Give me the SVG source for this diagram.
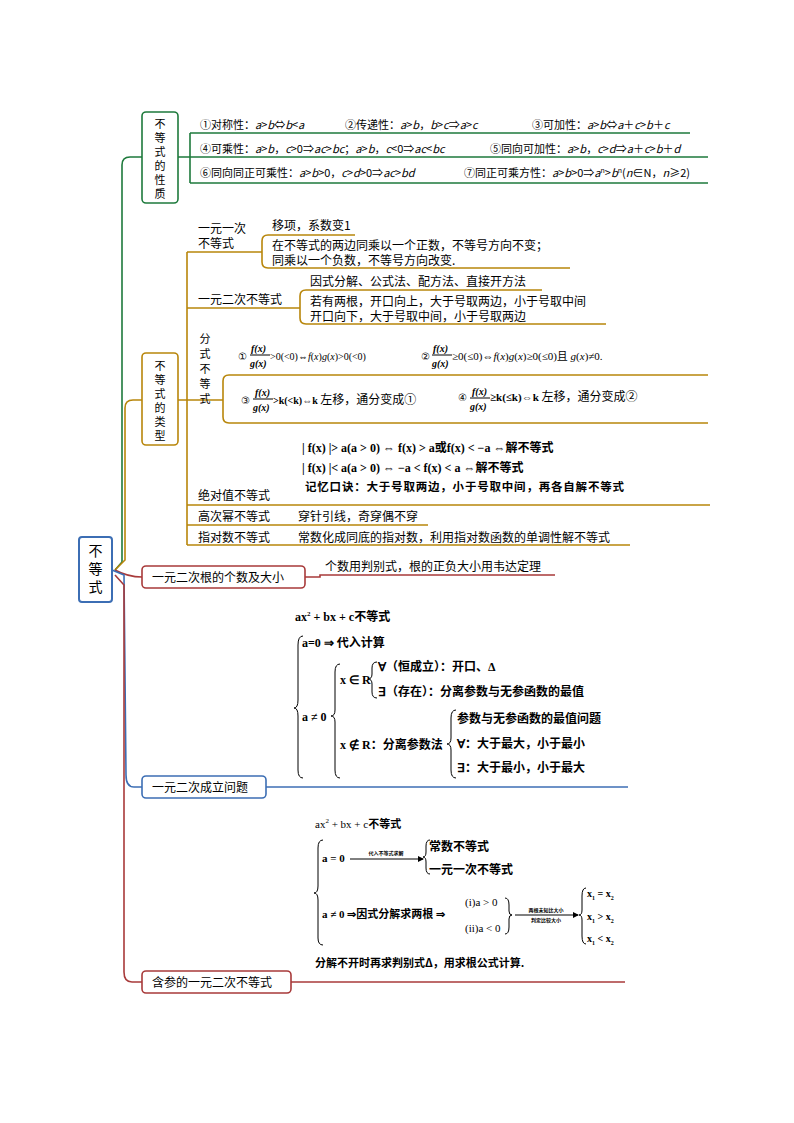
<svg xmlns="http://www.w3.org/2000/svg" width="794" height="1123" viewBox="0 0 794 1123" font-family="'Noto Sans CJK SC', 'Liberation Serif', serif">
<style>
.t{font-size:12px}
.v{font-size:11px}
.s{font-size:11px}
.g{stroke:#1e7a3c;fill:none;stroke-width:1.6}
.b{stroke:#b8860b;fill:none;stroke-width:1.6}
.r{stroke:#a83a3a;fill:none;stroke-width:1.6}
.u{stroke:#3c6eb4;fill:none;stroke-width:1.6}
.k{stroke:#000;fill:none;stroke-width:1}
</style>
<defs><marker id="ar" markerWidth="6" markerHeight="6" refX="5" refY="3" orient="auto"><path d="M0,0L6,3L0,6z" fill="#000"/></marker></defs>
<g id="connectors">
<path class="g" d="M115,570 L122,562 L122,165 Q122,157 130,157 L142,157" stroke-width="2.5"/>
<path class="b" d="M115,570 L125,560 L125,408 Q125,400 133,400 L142,400" stroke-width="4"/>
<path class="r" d="M115,570 Q128,577 142,577" stroke-width="3"/>
<path class="u" d="M112,570 L124,575 L126,775 Q126,787 134,787 L142,787" stroke-width="4"/>
<path class="r" d="M115,575 L124,585 L124,972 Q124,982 132,982 L142,982" stroke-width="2"/>
<path class="g" d="M178,157 L190,157 M190,133 L190,183 M190,133 L690,133 M190,157 L708,157 M190,183 L708,183"/>
<path class="b" d="M178,400 L187,400 M187,252 L187,545 M187,252 L262,252 M262,241 Q262,235 268,235 L355,235 M262,241 L262,262 Q262,268 268,268 L570,268 M187,308 L300,308 M300,296 Q300,290 306,290 L542,290 M300,296 L300,318 Q300,324 306,324 L606,324 M187,400 L223,400 M223,381 Q223,375 229,375 L708,375 M223,381 L223,417 Q223,423 229,423 L708,423 M187,505 L710,505 M187,525 L428,525 M187,545 L630,545"/>
<path class="r" d="M305,577 L320,577 L320,575 L555,575"/>
<path class="u" d="M266,787 L628,787"/>
<path class="r" d="M291,982 L625,982"/>
</g>
<g id="root"><rect x="79" y="537" width="33" height="65" rx="3" fill="#fff" stroke="#3c6eb4" stroke-width="2"/>
<text x="95.5" y="556" text-anchor="middle" font-size="14">不</text><text x="95.5" y="574" text-anchor="middle" font-size="14">等</text><text x="95.5" y="592" text-anchor="middle" font-size="14">式</text></g>
<g id="n-xingzhi"><rect x="142" y="112" width="36" height="91" rx="4" fill="#fff" stroke="#1e7a3c" stroke-width="1.6"/>
<text class="v" x="160" y="128" text-anchor="middle">不</text><text class="v" x="160" y="142" text-anchor="middle">等</text><text class="v" x="160" y="156" text-anchor="middle">式</text><text class="v" x="160" y="170" text-anchor="middle">的</text><text class="v" x="160" y="184" text-anchor="middle">性</text><text class="v" x="160" y="198" text-anchor="middle">质</text></g>
<g id="n-xingzhi-items">
<text class="s" x="200" y="129">①对称性：<tspan font-style="italic">a</tspan>&gt;<tspan font-style="italic">b</tspan>⇔<tspan font-style="italic">b</tspan>&lt;<tspan font-style="italic">a</tspan></text>
<text class="s" x="345" y="129">②传递性：<tspan font-style="italic">a</tspan>&gt;<tspan font-style="italic">b</tspan>，<tspan font-style="italic">b</tspan>&gt;<tspan font-style="italic">c</tspan>⇒<tspan font-style="italic">a</tspan>&gt;<tspan font-style="italic">c</tspan></text>
<text class="s" x="532" y="129">③可加性：<tspan font-style="italic">a</tspan>&gt;<tspan font-style="italic">b</tspan>⇔<tspan font-style="italic">a</tspan>＋<tspan font-style="italic">c</tspan>&gt;<tspan font-style="italic">b</tspan>＋<tspan font-style="italic">c</tspan></text>
<text class="s" x="200" y="153">④可乘性：<tspan font-style="italic">a</tspan>&gt;<tspan font-style="italic">b</tspan>，<tspan font-style="italic">c</tspan>&gt;0⇒<tspan font-style="italic">ac</tspan>&gt;<tspan font-style="italic">bc</tspan>；<tspan font-style="italic">a</tspan>&gt;<tspan font-style="italic">b</tspan>，<tspan font-style="italic">c</tspan>&lt;0⇒<tspan font-style="italic">ac</tspan>&lt;<tspan font-style="italic">bc</tspan></text>
<text class="s" x="490" y="153">⑤同向可加性：<tspan font-style="italic">a</tspan>&gt;<tspan font-style="italic">b</tspan>，<tspan font-style="italic">c</tspan>&gt;<tspan font-style="italic">d</tspan>⇒<tspan font-style="italic">a</tspan>＋<tspan font-style="italic">c</tspan>&gt;<tspan font-style="italic">b</tspan>＋<tspan font-style="italic">d</tspan></text>
<text class="s" x="200" y="177">⑥同向同正可乘性：<tspan font-style="italic">a</tspan>&gt;<tspan font-style="italic">b</tspan>&gt;0，<tspan font-style="italic">c</tspan>&gt;<tspan font-style="italic">d</tspan>&gt;0⇒<tspan font-style="italic">ac</tspan>&gt;<tspan font-style="italic">bd</tspan></text>
<text class="s" x="464" y="177">⑦同正可乘方性：<tspan font-style="italic">a</tspan>&gt;<tspan font-style="italic">b</tspan>&gt;0⇒<tspan font-style="italic">a</tspan><tspan font-size="7" dy="-4">n</tspan><tspan dy="4">&gt;</tspan><tspan font-style="italic">b</tspan><tspan font-size="7" dy="-4">n</tspan><tspan dy="4">(</tspan><tspan font-style="italic">n</tspan>∈N，<tspan font-style="italic">n</tspan>≥2)</text>
</g>
<g id="n-leixing"><rect x="142" y="353" width="36" height="92" rx="4" fill="#fff" stroke="#b8860b" stroke-width="1.6"/>
<text class="v" x="160" y="370" text-anchor="middle">不</text><text class="v" x="160" y="384" text-anchor="middle">等</text><text class="v" x="160" y="398" text-anchor="middle">式</text><text class="v" x="160" y="412" text-anchor="middle">的</text><text class="v" x="160" y="426" text-anchor="middle">类</text><text class="v" x="160" y="440" text-anchor="middle">型</text></g>
<g id="n-yiyiyici">
<text class="t" x="198" y="233">一元一次</text><text class="t" x="198" y="248">不等式</text>
<text class="t" x="272" y="230">移项，系数变1</text>
<text class="t" x="272" y="250">在不等式的两边同乘以一个正数，不等号方向不变；</text>
<text class="t" x="272" y="265">同乘以一个负数，不等号方向改变.</text></g>
<g id="n-yiyuanerci">
<text class="t" x="198" y="304">一元二次不等式</text>
<text class="t" x="310" y="286">因式分解、公式法、配方法、直接开方法</text>
<text class="t" x="310" y="306">若有两根，开口向上，大于号取两边，小于号取中间</text>
<text class="t" x="310" y="321">开口向下，大于号取中间，小于号取两边</text></g>
<g id="n-fenshi" font-family="'Liberation Serif', serif">
<g font-family="'Noto Sans CJK SC', sans-serif"><text class="v" x="205" y="343" text-anchor="middle">分</text><text class="v" x="205" y="358" text-anchor="middle">式</text><text class="v" x="205" y="373" text-anchor="middle">不</text><text class="v" x="205" y="388" text-anchor="middle">等</text><text class="v" x="205" y="403" text-anchor="middle">式</text></g>
<text x="238" y="360" font-size="10">①</text>
<text x="251" y="352" font-size="10" font-style="italic" font-weight="bold">f(x)</text><line class="k" x1="250" y1="355" x2="270" y2="355"/><text x="250" y="367" font-size="10" font-style="italic" font-weight="bold">g(x)</text>
<text x="270" y="360" font-size="10">&gt;0(&lt;0)⇔<tspan font-style="italic">f</tspan>(<tspan font-style="italic">x</tspan>)<tspan font-style="italic">g</tspan>(<tspan font-style="italic">x</tspan>)&gt;0(&lt;0)</text>
<text x="421" y="360" font-size="10">②</text>
<text x="433" y="352" font-size="10" font-style="italic" font-weight="bold">f(x)</text><line class="k" x1="432" y1="355" x2="452" y2="355"/><text x="432" y="367" font-size="10" font-style="italic" font-weight="bold">g(x)</text>
<text x="452" y="360" font-size="11">≥0(≤0)⇔<tspan font-style="italic">f</tspan>(<tspan font-style="italic">x</tspan>)<tspan font-style="italic">g</tspan>(<tspan font-style="italic">x</tspan>)≥0(≤0)<tspan font-family="'Noto Sans CJK SC'">且</tspan> <tspan font-style="italic">g</tspan>(<tspan font-style="italic">x</tspan>)≠0.</text>
<text x="241" y="404" font-size="10">③</text>
<text x="255" y="396" font-size="10" font-style="italic" font-weight="bold">f(x)</text><line class="k" x1="253" y1="399" x2="273" y2="399"/><text x="253" y="411" font-size="10" font-style="italic" font-weight="bold">g(x)</text>
<text x="273" y="404" font-size="10" font-weight="bold">&gt;k(&lt;k)⇔k <tspan font-family="'Noto Sans CJK SC'" font-weight="normal" font-size="12">左移，通分变成①</tspan></text>
<text x="458" y="401" font-size="10">④</text>
<text x="472" y="395" font-size="10" font-style="italic" font-weight="bold">f(x)</text><line class="k" x1="470" y1="398" x2="490" y2="398"/><text x="470" y="410" font-size="10" font-style="italic" font-weight="bold">g(x)</text>
<text x="490" y="401" font-size="11" font-weight="bold">≥k(≤k)⇔k <tspan font-family="'Noto Sans CJK SC'" font-weight="normal" font-size="12">左移，通分变成②</tspan></text></g>
<g id="n-jueduizhi">
<text x="302" y="452" font-family="'Liberation Serif', serif" font-size="12" font-weight="bold">| f(x) |&gt; a(a &gt; 0) ⇔ f(x) &gt; a<tspan font-family="'Noto Sans CJK SC'">或</tspan>f(x) &lt; −a ⇔<tspan font-family="'Noto Sans CJK SC'">解不等式</tspan></text>
<text x="302" y="472" font-family="'Liberation Serif', serif" font-size="12" font-weight="bold">| f(x) |&lt; a(a &gt; 0) ⇔ −a &lt; f(x) &lt; a ⇔<tspan font-family="'Noto Sans CJK SC'">解不等式</tspan></text>
<text x="305" y="491" font-size="11.5" font-weight="bold" letter-spacing="0.8">记忆口诀：大于号取两边，小于号取中间，再各自解不等式</text>
<text class="t" x="198" y="500">绝对值不等式</text></g>
<g id="n-gaoci"><text class="t" x="198" y="521">高次幂不等式</text><text class="t" x="298" y="521">穿针引线，奇穿偶不穿</text></g>
<g id="n-zhidui"><text class="t" x="198" y="542">指对数不等式</text><text class="t" x="298" y="542">常数化成同底的指对数，利用指对数函数的单调性解不等式</text></g>
<g id="n-genshu"><rect x="142" y="566" width="163" height="22" rx="4" fill="#fff" stroke="#a83a3a" stroke-width="1.6"/>
<text class="t" x="152" y="582">一元二次根的个数及大小</text>
<text class="t" x="325" y="571">个数用判别式，根的正负大小用韦达定理</text></g>
<g id="n-chengli"><rect x="142" y="776" width="124" height="22" rx="4" fill="#fff" stroke="#3c6eb4" stroke-width="1.6"/>
<text class="t" x="152" y="792">一元二次成立问题</text>
<g font-family="'Liberation Serif', serif" font-size="12" font-weight="bold">
<text x="295" y="621">ax<tspan font-size="7" dy="-5">2</tspan><tspan dy="5"> + bx + c</tspan><tspan font-family="'Noto Sans CJK SC'">不等式</tspan></text>
<path class="k" d="M303,636 Q298,636 298,645 L298,700 Q298,708 294,708 Q298,708 298,716 L298,770 Q298,778 303,778"/>
<text x="302" y="647">a=0 ⇒ <tspan font-family="'Noto Sans CJK SC'">代入计算</tspan></text>
<text x="302" y="721">a ≠ 0</text>
<path class="k" d="M340,664 Q335,664 335,672 L335,710 Q335,716 331,716 Q335,716 335,722 L335,770 Q335,778 340,778"/>
<text x="340" y="684">x ∈ R</text>
<path class="k" d="M377,662 Q372,662 372,668 L372,674 Q372,679 368,679 Q372,679 372,684 L372,692 Q372,698 377,698"/>
<text x="378" y="671">∀<tspan font-family="'Noto Sans CJK SC'">（恒成立）：开口、</tspan>Δ</text>
<text x="378" y="696">∃<tspan font-family="'Noto Sans CJK SC'">（存在）：分离参数与无参函数的最值</tspan></text>
<text x="340" y="749">x ∉ R<tspan font-family="'Noto Sans CJK SC'">：分离参数法</tspan></text>
<path class="k" d="M456,710 Q451,710 451,718 L451,738 Q451,744 447,744 Q451,744 451,750 L451,770 Q451,778 456,778"/>
<text x="457" y="723" font-family="'Noto Sans CJK SC'">参数与无参函数的最值问题</text>
<text x="457" y="748">∀<tspan font-family="'Noto Sans CJK SC'">：大于最大，小于最小</tspan></text>
<text x="457" y="772">∃<tspan font-family="'Noto Sans CJK SC'">：大于最小，小于最大</tspan></text>
</g></g>
<g id="n-hancan"><rect x="142" y="971" width="149" height="22" rx="4" fill="#fff" stroke="#a83a3a" stroke-width="1.6"/>
<text class="t" x="152" y="987">含参的一元二次不等式</text>
<g font-family="'Liberation Serif', serif">
<text x="315" y="828" font-size="11">ax<tspan font-size="7" dy="-5">2</tspan><tspan dy="5"> + bx + c</tspan><tspan font-family="'Noto Sans CJK SC'" font-weight="bold">不等式</tspan></text>
<path class="k" d="M323,840 Q318,840 318,848 L318,886 Q318,893 314,893 Q318,893 318,900 L318,938 Q318,945 323,945"/>
<text x="322" y="862" font-size="11" font-weight="bold">a = 0</text>
<line class="k" x1="350" y1="859" x2="423" y2="859" marker-end="url(#ar)"/>
<text x="386" y="855" font-family="'Noto Sans CJK SC'" font-size="5" text-anchor="middle" font-weight="bold">代入不等式求解</text>
<path class="k" d="M430,840 Q426,840 426,846 L426,852 Q426,857 423,857 Q426,857 426,862 L426,868 Q426,874 430,874"/>
<text x="429" y="851" font-family="'Noto Sans CJK SC'" font-size="12" font-weight="bold">常数不等式</text>
<text x="429" y="874" font-family="'Noto Sans CJK SC'" font-size="12" font-weight="bold">一元一次不等式</text>
<text x="322" y="918" font-size="11" font-weight="bold">a ≠ 0 ⇒<tspan font-family="'Noto Sans CJK SC'">因式分解求两根</tspan> ⇒</text>
<text x="465" y="906" font-size="11">(i)a &gt; 0</text>
<text x="465" y="932" font-size="11">(ii)a &lt; 0</text>
<path class="k" d="M505,898 Q509,898 509,905 L509,911 Q509,915 512,915 Q509,915 509,919 L509,927 Q509,934 505,934"/>
<line class="k" x1="515" y1="915" x2="578" y2="915" marker-end="url(#ar)"/>
<text x="546" y="912" font-family="'Noto Sans CJK SC'" font-size="5" text-anchor="middle" font-weight="bold">两根未知比大小</text>
<text x="546" y="922" font-family="'Noto Sans CJK SC'" font-size="5" text-anchor="middle" font-weight="bold">判定比较大小</text>
<path class="k" d="M586,888 Q582,888 582,896 L582,910 Q582,915 579,915 Q582,915 582,920 L582,936 Q582,944 586,944"/>
<text x="587" y="897" font-size="10" font-weight="bold">x<tspan font-size="6" dy="3">1</tspan><tspan dy="-3"> = x</tspan><tspan font-size="6" dy="3">2</tspan></text>
<text x="587" y="920" font-size="10" font-weight="bold">x<tspan font-size="6" dy="3">1</tspan><tspan dy="-3"> &gt; x</tspan><tspan font-size="6" dy="3">2</tspan></text>
<text x="587" y="942" font-size="10" font-weight="bold">x<tspan font-size="6" dy="3">1</tspan><tspan dy="-3"> &lt; x</tspan><tspan font-size="6" dy="3">2</tspan></text>
<text x="315" y="967" font-family="'Noto Sans CJK SC'" font-size="11" font-weight="bold">分解不开时再求判别式Δ，用求根公式计算.</text>
</g></g>
</svg>
